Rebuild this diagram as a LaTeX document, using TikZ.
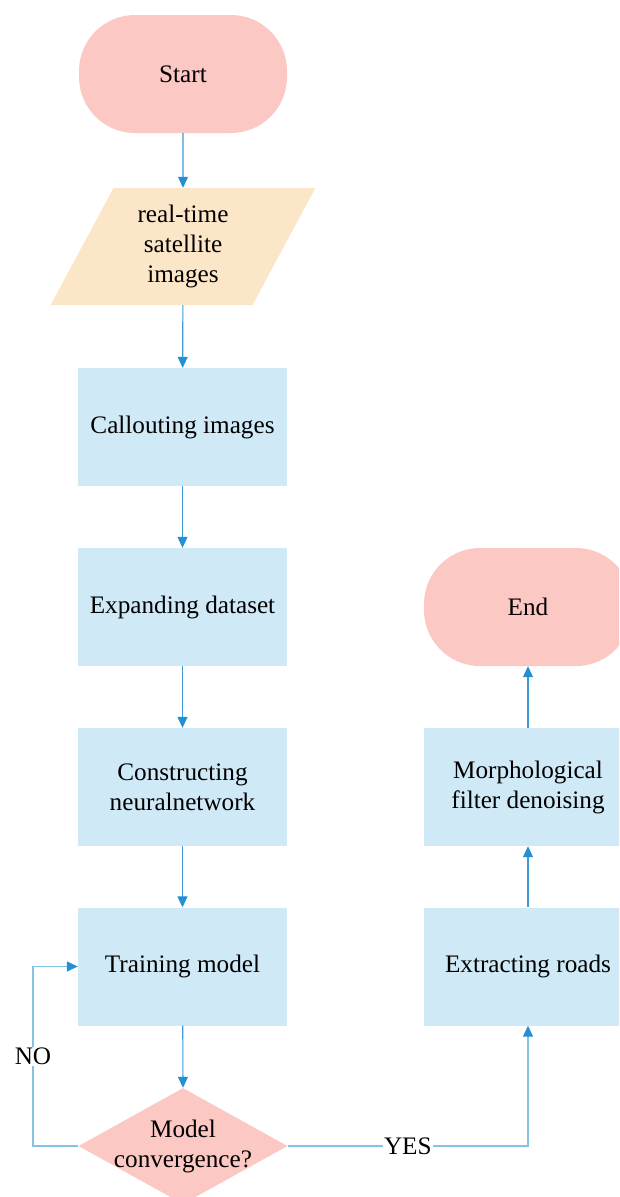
\documentclass[tikz,border=0pt]{standalone}
\usepackage{fontspec}
\setmainfont{Liberation Serif}
\usetikzlibrary{shapes.geometric,arrows.meta}
\definecolor{pinkf}{HTML}{FCC8C4}
\definecolor{bluef}{HTML}{CFE9F6}
\definecolor{sandf}{HTML}{FCE6C8}
\definecolor{arr}{HTML}{3D9AD6}
\definecolor{loopc}{HTML}{86C2E2}
\definecolor{tipc}{HTML}{2490D2}
\tikzset{
  every node/.style={font=\fontsize{25.2}{30}\selectfont, align=center, inner sep=0pt},
  term/.style={rectangle, rounded corners=56pt, fill=pinkf, minimum width=208pt, minimum height=118pt},
  proc/.style={rectangle, fill=bluef, minimum width=209pt, minimum height=118pt},
  io/.style={trapezium, trapezium left angle=63.6, trapezium right angle=116.4, trapezium stretches=true, fill=sandf, minimum width=265pt, minimum height=117pt},
  decision/.style={diamond, fill=pinkf, minimum width=209pt, minimum height=116pt},
  flow/.style={draw=arr, line width=1.1pt, -{Triangle[length=11pt,width=10pt,color=tipc]}},
  loopflow/.style={draw=loopc, line width=1.3pt, -{Triangle[length=11pt,width=10pt,color=tipc]}},
  lbl/.style={fill=white, inner sep=1pt}
}
\begin{document}
\begin{tikzpicture}[x=1pt,y=-1pt]
\useasboundingbox (0,0) rectangle (619,1197);
\clip (0,0) rectangle (619,1197);
\node[term] (start) at (183,74) {Start};
\node[io] (img) at (183,246.5) {real-time\\satellite\\images};
\node[proc] (call) at (182.5,427) {Callouting images};
\node[proc] (exp) at (182.5,607) {Expanding dataset};
\node[proc] (cons) at (182.5,787) {Constructing\\neuralnetwork};
\node[proc] (train) at (182.5,966.5) {Training model};
\node[decision] (conv) at (183,1146) {};
\node (convtext) at (conv) {Model\\convergence?};
\node[proc] (ext) at (528,966.5) {Extracting roads};
\node[proc] (morph) at (528,787) {Morphological\\filter denoising};
\node[term] (end) at (528,607) {End};
\coordinate (nl) at (33,1146);
\coordinate (nu) at (33,966.5);
\coordinate (yr) at (528,1146);
\draw[flow] (start) -- (img);
\draw[flow] (img) -- (call);
\draw[flow] (call) -- (exp);
\draw[flow] (exp) -- (cons);
\draw[flow] (cons) -- (train);
\draw[flow] (train) -- (conv.north);
\draw[loopflow] (conv.west) -- (nl) -- node[pos=0.5, lbl] {NO} (nu) -- (train.west);
\draw[loopflow] (conv.east) -- node[pos=0.5, lbl] {YES} (yr) -- (ext.south);
\draw[flow] (ext) -- (morph);
\draw[flow] (morph) -- (end);
\end{tikzpicture}
\end{document}
